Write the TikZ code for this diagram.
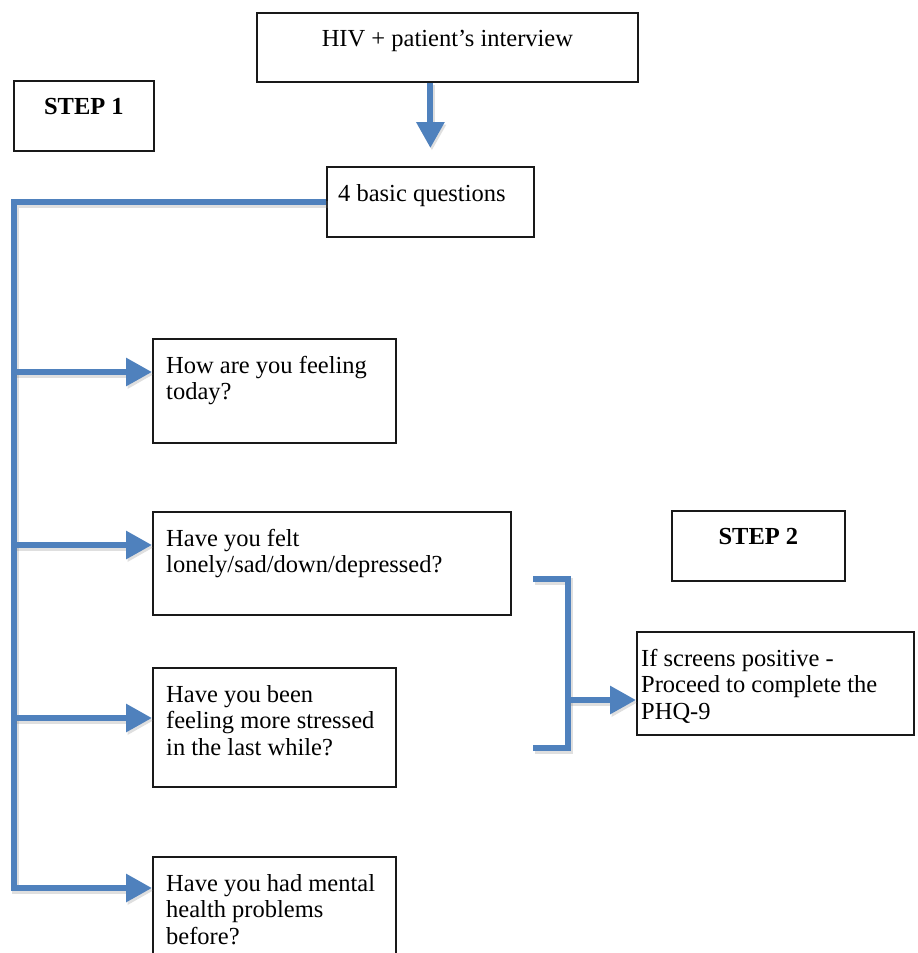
\documentclass[tikz,border=0pt]{standalone}
\usepackage{fontspec}
\setmainfont{Liberation Serif}
\usetikzlibrary{arrows.meta,positioning,calc}
\definecolor{flowblue}{RGB}{79,129,189}

\begin{document}
\begin{tikzpicture}[
    x=1pt, y=-1pt,
    font=\fontsize{24.5pt}{26.5pt}\selectfont,
    box/.style={draw=black!90, line width=1.8pt, anchor=north west, inner sep=0pt},
    txt/.style={anchor=north west, align=left, inner xsep=14pt, inner ysep=18pt},
    ctxt/.style={anchor=north, align=center, inner ysep=18pt},
    pipe/.style={draw=flowblue, line width=6pt, preaction={draw=gray, line width=7pt, opacity=0.25, transform canvas={shift={(1.5pt,-2.5pt)}}}},
    flow/.style={pipe, -{Triangle[length=26pt, width=27pt]}}
]
\useasboundingbox (0,0) rectangle (918,953);

% Step 1: interview and the four questions
\node[box, minimum width=381pt, minimum height=69pt, label={[ctxt]north:HIV + patient's interview}] (hiv) at (256,12) {};
\node[box, minimum width=140pt, minimum height=70pt, label={[ctxt]north:\textbf{STEP 1}}] (step1) at (13,80) {};
\node[box, minimum width=207pt, minimum height=70pt, label={[txt, inner xsep=12pt]north west:4 basic questions}] (basic) at (326,166) {};

\node[box, minimum width=243pt, minimum height=104pt, label={[txt]north west:How are you feeling\\today?}] (q1) at (152,338) {};
\node[box, minimum width=358pt, minimum height=103pt, label={[txt]north west:Have you felt\\lonely/sad/down/depressed?}] (q2) at (152,511) {};
\node[box, minimum width=243pt, minimum height=119pt, label={[txt]north west:Have you been\\feeling more stressed\\in the last while?}] (q3) at (152,667) {};
\node[box, minimum width=243pt, minimum height=112pt, label={[txt]north west:Have you had mental\\health problems\\before?}] (q4) at (152,856) {};

% Step 2
\node[box, minimum width=173pt, minimum height=70pt, label={[ctxt]north:\textbf{STEP 2}}] (step2) at (671,510) {};
\node[box, minimum width=277pt, minimum height=103pt, label={[txt, inner xsep=5pt]north west:If screens positive -\\Proceed to complete the\\PHQ-9}] (phq) at (636,631) {};

% entry points of the branches
\coordinate (in1) at ([yshift=-34pt]q1.north west);
\coordinate (in2) at ([yshift=-34pt]q2.north west);
\coordinate (in3) at ([yshift=-51pt]q3.north west);
\coordinate (in4) at ([yshift=-32pt]q4.north west);
\coordinate (trunk) at (14,201);

% Arrows
\draw[flow, shorten >=18pt] (basic.north |- hiv.south) -- (basic.north);
\draw[flow] (basic.west) -| (trunk |- in4) -- (in4);
\foreach \n in {1,2,3}
    \draw[flow] (trunk |- in\n) -- (in\n);

% Bracket to PHQ-9
\coordinate (brt) at (533,579);
\coordinate (brb) at (533,748);
\coordinate (brx) at (568,700);
\draw[pipe] (brt) -- (brt -| brx) -- (brb -| brx) -- (brb);
\draw[flow] (brx) -- (brx -| phq.west);

\end{tikzpicture}
\end{document}
